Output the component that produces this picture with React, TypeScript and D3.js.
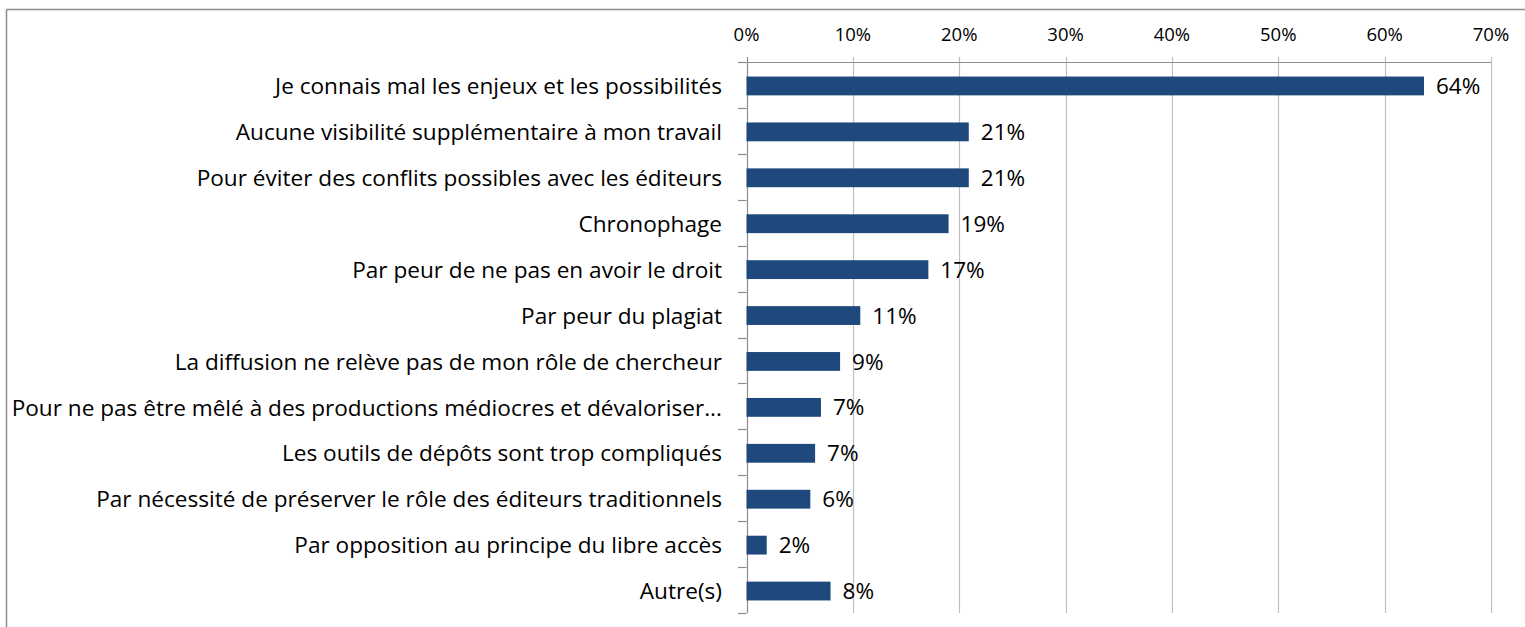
import React from "react";
import * as d3 from "d3";

const categories = [
  "Je connais mal les enjeux et les possibilités",
  "Aucune visibilité supplémentaire à mon travail",
  "Pour éviter des conflits possibles avec les éditeurs",
  "Chronophage",
  "Par peur de ne pas en avoir le droit",
  "Par peur du plagiat",
  "La diffusion ne relève pas de mon rôle de chercheur",
  "Pour ne pas être mêlé à des productions médiocres et dévaloriser...",
  "Les outils de dépôts sont trop compliqués",
  "Par nécessité de préserver le rôle des éditeurs traditionnels",
  "Par opposition au principe du libre accès",
  "Autre(s)",
];
const values = [63.7, 20.9, 20.9, 19.0, 17.1, 10.7, 8.8, 7.0, 6.45, 6.0, 1.9, 7.9];
const valueLabels = ["64%", "21%", "21%", "19%", "17%", "11%", "9%", "7%", "7%", "6%", "2%", "8%"];
const ticks = [0, 10, 20, 30, 40, 50, 60, 70];

const W = 1525;
const H = 627;
const FONT = "'Open Sans', sans-serif";

export default function App() {
  const x = d3.scaleLinear().domain([0, 70]).range([746.5, 1491]);
  const y = d3.scaleBand<string>().domain(categories).range([63, 614]).paddingInner(0.59).paddingOuter(0.295);
  const band = d3.scaleBand<string>().domain(categories).range([62, 613]);
  const barColor = "#1f497d";
  const gridColor = "#bfbfbf";
  const axisColor = "#8c8c8c";
  return (
    <svg width={W} height={H} style={{ position: "absolute", left: 0, top: 0, background: "#fff" }} fontFamily={FONT}>
      <rect x={0} y={0} width={W} height={H} fill="#fff" />
      {/* outer frame */}
      <line x1={6.5} x2={W} y1={9.5} y2={9.5} stroke="#8c8c8c" strokeWidth={1.5} />
      <line x1={6.5} x2={6.5} y1={9.5} y2={H} stroke="#8c8c8c" strokeWidth={1.5} />
      {/* gridlines */}
      {ticks.map((t) => (
        <line key={"g" + t} x1={Math.round(x(t)) + 0.5} x2={Math.round(x(t)) + 0.5} y1={57} y2={613} stroke={t === 0 ? axisColor : gridColor} strokeWidth={1.2} />
      ))}
      {/* top axis line */}
      <line x1={x(0)} x2={x(70)} y1={62.5} y2={62.5} stroke={axisColor} strokeWidth={1.2} />
      {/* left ticks */}
      {categories.map((c, i) => (
        <line key={"lt" + i} x1={738} x2={x(0)} y1={Math.round(band(c)!) + 0.5} y2={Math.round(band(c)!) + 0.5} stroke={axisColor} strokeWidth={1.2} />
      ))}
      <line x1={738} x2={x(0)} y1={613.5} y2={613.5} stroke={axisColor} strokeWidth={1.2} />
      {/* tick labels */}
      {ticks.map((t) => (
        <text key={"tl" + t} x={x(t)} y={41} textAnchor="middle" fontSize={18.5} fill="#000">
          {t + "%"}
        </text>
      ))}
      {/* bars */}
      {categories.map((c, i) => (
        <rect key={"b" + i} x={x(0)} y={y(c)} width={x(values[i]) - x(0)} height={y.bandwidth()} fill={barColor} />
      ))}
      {/* value labels */}
      {categories.map((c, i) => (
        <text key={"v" + i} x={x(values[i]) + 12} y={y(c)! + y.bandwidth() / 2} dy="0.36em" fontSize={22.5} fill="#000">
          {valueLabels[i]}
        </text>
      ))}
      {/* category labels */}
      {categories.map((c, i) => (
        <text key={"c" + i} x={722} y={band(c)! + band.bandwidth() / 2 + 1} dy="0.36em" textAnchor="end" fontSize={22.6} fill="#000">
          {c}
        </text>
      ))}
    </svg>
  );
}
